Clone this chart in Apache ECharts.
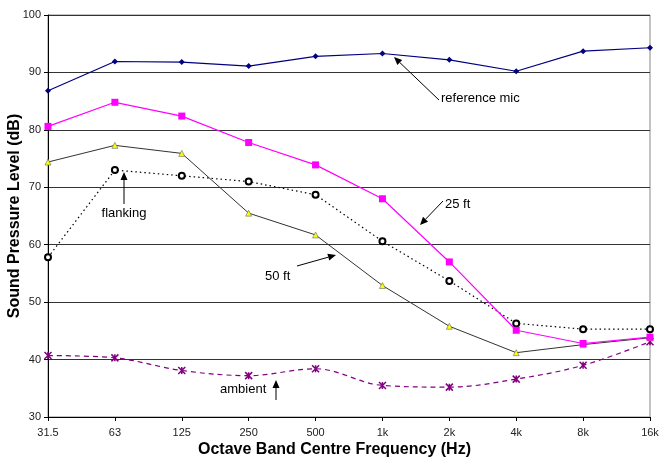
<!DOCTYPE html>
<html><head><meta charset="utf-8">
<script src="https://cdn.jsdelivr.net/npm/echarts@6/dist/echarts.min.js"></script>
<style>html,body{margin:0;padding:0;background:#fff}#c{width:659px;height:462px}</style>
</head><body><div id="c"></div>
<script>
const categories = ['31.5','63','125','250','500','1k','2k','4k','8k','16k'];
const referenceMic = [86.8, 91.9, 91.8, 91.1, 92.8, 93.3, 92.2, 90.2, 93.7, 94.3];
const ft25 = [80.6, 84.8, 82.4, 77.8, 73.9, 68.0, 57.0, 45.1, 42.8, 43.9];
const ft50 = [74.4, 77.3, 75.9, 65.5, 61.7, 52.9, 45.8, 41.2, 42.6, 43.8];
const flanking = [57.8, 73.0, 72.0, 71.0, 68.7, 60.6, 53.7, 46.3, 45.3, 45.3];
const ambient = [40.7, 40.3, 38.1, 37.2, 38.4, 35.5, 35.2, 36.6, 39.0, 43.1];
const yTicks = { min: 30, max: 100, interval: 10 };

function arrow(x1, y1, x2, y2) {
  const ang = Math.atan2(y2 - y1, x2 - x1);
  const L = 8, W = 3.5;
  const bx = x2 - L * Math.cos(ang), by = y2 - L * Math.sin(ang);
  const px = -Math.sin(ang) * W, py = Math.cos(ang) * W;
  return [
    { type: 'line', shape: { x1: x1, y1: y1, x2: bx, y2: by }, style: { stroke: '#000', lineWidth: 1 }, z: 100 },
    { type: 'polygon', shape: { points: [[x2, y2], [bx + px, by + py], [bx - px, by - py]] }, style: { fill: '#000' }, z: 100 }
  ];
}
function label(text, x, y, align) {
  return { type: 'text', x: x, y: y, style: { text: text, font: '13px "Liberation Sans", Arial, sans-serif', fill: '#000', align: align || 'left', verticalAlign: 'middle' }, z: 100 };
}

const chart = echarts.init(document.getElementById('c'), null, { renderer: 'canvas' });
const font = '"Liberation Sans", Arial, sans-serif';
chart.setOption({
  animation: false,
  backgroundColor: '#fff',
  grid: { left: 48, right: 9, top: 15, bottom: 45, show: true, borderColor: '#888', borderWidth: 1, containLabel: false, outerBoundsMode: 'none' },
  xAxis: {
    type: 'category', data: categories, boundaryGap: false,
    axisLine: { lineStyle: { color: '#000', width: 1 } },
    axisTick: { show: true, length: 4, alignWithLabel: true, lineStyle: { color: '#000' } },
    axisLabel: { fontFamily: font, fontSize: 11, color: '#222', margin: 10 },
    splitLine: { show: false },
    name: 'Octave Band Centre Frequency (Hz)', nameLocation: 'middle', nameGap: 25, nameMoveOverlap: false,
    nameTextStyle: { fontFamily: font, fontSize: 16, fontWeight: 'bold', color: '#000', padding: [0, 29, 0, 0] }
  },
  yAxis: {
    type: 'value', min: yTicks.min, max: yTicks.max, interval: yTicks.interval,
    axisLine: { show: true, lineStyle: { color: '#000', width: 1 } },
    axisTick: { show: true, length: 4, lineStyle: { color: '#000' } },
    axisLabel: { fontFamily: font, fontSize: 11, color: '#222', margin: 7 },
    splitLine: { show: true, lineStyle: { color: '#333', width: 1 } },
    name: 'Sound Pressure Level (dB)', nameLocation: 'middle', nameGap: 25, nameMoveOverlap: false,
    nameTextStyle: { fontFamily: font, fontSize: 16, fontWeight: 'bold', color: '#000' }
  },
  series: [
    { name: 'ambient', type: 'line', data: ambient, smooth: 0.35, symbol: 'path://M0,0L10,10M10,0L0,10M5,0L5,10', symbolSize: 7,
      lineStyle: { color: '#800080', width: 1.2, type: [5, 4] },
      itemStyle: { color: '#800080', borderColor: '#800080', borderWidth: 1.5 }, z: 2 },
    { name: 'flanking', type: 'line', data: flanking, symbol: 'emptyCircle', symbolSize: 6,
      lineStyle: { color: '#000', width: 1.2, type: [1.5, 3] },
      itemStyle: { color: '#000', borderColor: '#000', borderWidth: 0.6 }, z: 3 },
    { name: '50 ft', type: 'line', data: ft50, symbol: 'triangle', symbolSize: 6,
      lineStyle: { color: '#333', width: 1 },
      itemStyle: { color: '#FFFF00', borderColor: '#666', borderWidth: 0.6 }, z: 4 },
    { name: '25 ft', type: 'line', data: ft25, symbol: 'rect', symbolSize: 7,
      lineStyle: { color: '#FF00FF', width: 1.2 },
      itemStyle: { color: '#FF00FF' }, z: 5 },
    { name: 'reference mic', type: 'line', data: referenceMic, symbol: 'diamond', symbolSize: 6,
      lineStyle: { color: '#000080', width: 1.2 },
      itemStyle: { color: '#000080' }, z: 6 }
  ],
  graphic: [].concat(
    arrow(439, 100, 394, 57), [label('reference mic', 441, 98)],
    arrow(443, 201, 420, 225), [label('25 ft', 445, 204)],
    arrow(124, 204, 124, 172), [label('flanking', 124, 213, 'center')],
    arrow(297, 266, 336, 255), [label('50 ft', 265, 276)],
    arrow(276, 400, 276, 380), [label('ambient', 220, 389)]
  )
});
</script></body></html>
